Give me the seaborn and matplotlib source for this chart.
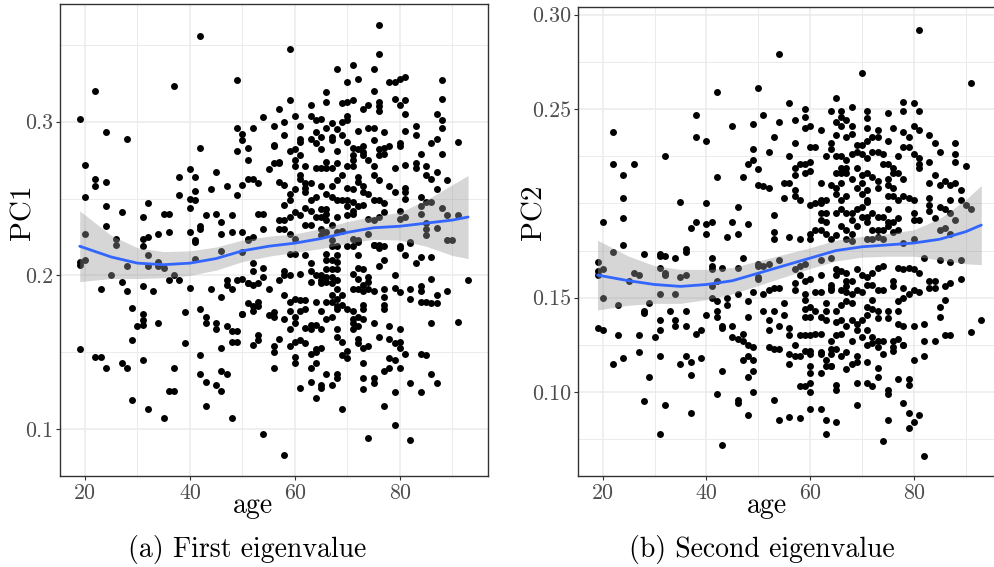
import numpy as np
import pandas as pd
import matplotlib
matplotlib.use("Agg")
import matplotlib.pyplot as plt
import seaborn as sns

# ---------------- Panel (a): PC1 vs age ----------------
a1_age = [42, 49, 22, 37, 19, 24, 28, 49, 50, 50,
          42, 49, 51, 51, 20, 22, 22, 24, 20, 40,
          38, 41, 45, 41, 38, 40, 41, 40, 44, 47,
          50, 51, 49, 24, 27, 32, 31, 35, 36, 43,
          45, 46, 48, 24, 20, 26, 26, 31, 32, 34,
          36, 40, 42, 42, 41, 46, 48, 50, 51, 31]
a1_pc1 = [.356, .327, .320, .323, .302, .293, .289, .296, .292, .288,
          .283, .281, .283, .275, .272, .263, .258, .261, .251, .269,
          .264, .264, .267, .255, .252, .250, .249, .244, .256, .258,
          .259, .263, .252, .245, .241, .247, .238, .240, .240, .239,
          .240, .235, .239, .232, .227, .224, .220, .224, .225, .227,
          .228, .228, .232, .230, .223, .227, .228, .228, .224, .219]

a2_age = [76, 59, 76, 68, 71, 75, 70, 72, 78, 79,
          80, 81, 88, 66, 75, 59, 66, 69, 70, 71,
          63, 74, 76, 76, 76, 79, 80, 81, 88, 57,
          73, 81, 54, 60, 63, 70, 87, 58, 64, 65,
          67, 69, 70, 88, 52, 56, 61, 66, 68, 74,
          75, 83, 88, 58, 63, 64, 65, 67, 69, 72,
          77, 81, 87, 91, 86, 83, 56, 56, 61, 61,
          64, 67, 70, 73, 75, 77, 78, 80, 80, 59,
          60, 65, 68, 71, 71, 72, 73, 73, 76, 76,
          77, 84, 88, 57, 60, 61, 66, 68, 71, 74,
          56, 57, 60, 62, 64, 65, 66, 67, 70, 71,
          75, 81, 83, 83, 85, 55, 61, 61, 69, 72,
          72, 79, 75, 76, 85, 86, 87, 89, 52, 53,
          57, 58, 62, 62, 62, 63, 65, 67, 68, 70,
          71, 73, 73, 74, 78, 79, 81, 81, 81, 87,
          60, 59, 59, 63, 64, 66, 67, 68, 69, 70,
          71, 75, 76, 77, 84, 85, 86, 58, 62, 63,
          65, 66, 70, 71, 72, 73, 77, 80, 84, 88,
          53, 54, 57, 58, 59, 60, 61, 64, 65, 66,
          66, 68, 70, 71, 74, 75, 76, 80, 81, 84,
          89, 91, 51, 52, 54, 57, 58, 59, 60, 62,
          63, 65, 65, 66, 67, 67, 68, 69, 71, 72,
          74, 75, 76, 80, 82, 85, 85, 85, 87, 89,
          90]
a2_pc1 = [.363, .347, .344, .334, .337, .334, .326, .328, .326, .326,
          .328, .329, .327, .319, .320, .314, .313, .312, .313, .314,
          .311, .311, .313, .310, .307, .315, .311, .314, .315, .308,
          .308, .305, .303, .304, .304, .304, .305, .300, .301, .302,
          .299, .300, .301, .301, .296, .297, .297, .296, .295, .296,
          .296, .297, .296, .291, .289, .293, .290, .290, .291, .294,
          .293, .294, .289, .287, .286, .291, .285, .284, .289, .287,
          .286, .288, .287, .284, .288, .283, .284, .286, .284, .281,
          .282, .282, .281, .283, .278, .282, .280, .278, .282, .278,
          .279, .279, .279, .274, .275, .278, .274, .273, .275, .275,
          .273, .273, .271, .271, .270, .270, .270, .270, .271, .271,
          .271, .272, .273, .270, .271, .269, .265, .263, .265, .264,
          .261, .270, .265, .262, .265, .263, .267, .262, .263, .260,
          .261, .259, .260, .257, .254, .260, .258, .258, .262, .257,
          .256, .258, .254, .253, .258, .254, .257, .254, .250, .256,
          .256, .253, .249, .249, .251, .253, .251, .249, .249, .249,
          .248, .249, .249, .247, .251, .248, .248, .246, .244, .242,
          .243, .243, .245, .242, .245, .246, .241, .242, .245, .244,
          .240, .240, .236, .236, .238, .241, .239, .238, .238, .240,
          .236, .238, .239, .240, .237, .236, .238, .237, .238, .240,
          .239, .239, .223, .225, .230, .230, .230, .227, .224, .233,
          .233, .230, .226, .228, .233, .223, .228, .229, .224, .223,
          .227, .220, .220, .219, .222, .234, .230, .226, .231, .223,
          .223]

a3_age = [19, 19, 20, 25, 28, 32, 32, 34, 34, 35,
          37, 36, 38, 41, 41, 46, 50, 27, 23, 28,
          31, 33, 40, 44, 46, 47, 47, 48, 49, 51,
          29, 39, 42, 31, 31, 30, 31, 34, 43, 43,
          45, 45, 47, 48, 49, 50, 29, 39, 46, 48,
          49, 19, 22, 23, 24, 27, 28, 31, 37, 42,
          42, 43, 46, 47, 45, 46, 36, 37, 29, 32,
          43, 35, 48]
a3_pc1 = [.209, .207, .210, .200, .206, .213, .206, .209, .206, .205,
          .200, .197, .197, .222, .211, .216, .215, .196, .191, .190,
          .193, .190, .192, .191, .186, .197, .194, .191, .197, .195,
          .179, .176, .178, .175, .171, .167, .168, .169, .173, .169,
          .169, .165, .167, .164, .164, .175, .158, .156, .153, .157,
          .157, .152, .147, .147, .140, .143, .140, .145, .140, .148,
          .136, .131, .138, .136, .129, .125, .125, .125, .119, .113,
          .115, .107, .107]

a4_age = [52, 52, 54, 54, 50, 51, 52, 53, 55, 57,
          58, 58, 59, 61, 62, 63, 63, 63, 59, 60,
          64, 65, 65, 65, 66, 66, 66, 66, 66, 67,
          67, 67, 67, 67, 68, 68, 68, 68, 68, 68,
          70, 71, 72, 72, 71, 72, 72, 73, 73, 74,
          74, 74, 75, 76, 76, 77, 77, 79, 80, 81,
          82, 83, 84, 86, 71, 72, 73, 75, 77, 77,
          79, 80, 82, 82, 84, 84, 86, 89, 93, 50,
          51, 52, 52, 53, 53, 55, 56, 56, 58, 58,
          59, 59, 60, 60, 60, 61, 61, 62, 62, 62,
          63, 63, 64, 64, 65, 65, 66, 66, 67, 67,
          67, 68, 68, 68, 69, 69, 70, 71, 71, 71,
          71, 72, 72, 73, 73, 73, 75, 77, 77, 78,
          80, 84, 85, 86, 86, 87, 87, 91, 52, 53,
          53, 57, 56, 56, 56, 59, 59, 60, 60, 60,
          61, 61, 62, 63, 63, 63, 64, 64, 64, 65,
          65, 65, 64, 66, 67, 68, 68, 68, 68, 69,
          69, 69, 70, 70, 72, 72, 73, 74, 73, 73,
          73, 75, 75, 74, 76, 77, 77, 78, 78, 78,
          79, 79, 79, 79, 80, 80, 80, 81, 82, 82,
          84, 85, 84, 86, 87, 54, 58]
a4_pc1 = [.208, .203, .205, .199, .198, .195, .194, .195, .191, .197,
          .203, .200, .200, .201, .213, .208, .203, .196, .214, .214,
          .200, .200, .197, .195, .214, .210, .204, .199, .196, .219,
          .210, .204, .199, .195, .219, .213, .209, .204, .197, .191,
          .219, .219, .222, .213, .201, .205, .198, .204, .194, .199,
          .196, .191, .220, .218, .206, .219, .210, .200, .218, .213,
          .221, .208, .212, .212, .191, .191, .190, .190, .191, .186,
          .192, .189, .191, .185, .193, .190, .198, .190, .197, .175,
          .182, .180, .177, .183, .180, .174, .176, .173, .187, .172,
          .183, .177, .185, .173, .169, .184, .177, .184, .178, .166,
          .165, .168, .183, .168, .177, .165, .183, .172, .187, .183,
          .173, .185, .180, .178, .187, .181, .178, .177, .172, .169,
          .165, .173, .167, .181, .178, .172, .169, .181, .178, .167,
          .165, .183, .183, .182, .169, .187, .182, .170, .155, .161,
          .158, .159, .154, .150, .140, .165, .154, .157, .147, .143,
          .158, .127, .156, .149, .140, .131, .150, .152, .143, .153,
          .129, .127, .120, .136, .129, .165, .160, .136, .133, .157,
          .148, .113, .151, .146, .159, .156, .153, .154, .143, .133,
          .126, .133, .130, .094, .160, .138, .115, .159, .146, .140,
          .156, .145, .124, .103, .157, .153, .140, .149, .130, .093,
          .149, .148, .124, .136, .130, .097, .083]

# loess smooth of panel (a)
smooth_age = [19, 25, 30, 35, 40, 45, 50, 55, 60, 65, 70, 75, 80, 85, 90, 93]
smooth_a = [.219, .212, .208, .207, .208, .211, .216, .219, .221, .224,
            .228, .231, .232, .234, .236, .238]
band_a = [.023, .014, .010, .0085, .008, .0075, .007, .0065, .006, .0065,
          .007, .0075, .009, .015, .023, .027]

# ---------------- Panel (b): PC2 vs age ----------------
b1_age = [42, 50, 38, 22, 38, 40, 45, 49, 49, 32,
          22, 26, 24, 42, 47, 48, 49, 50, 50, 24,
          35, 40, 46, 20, 24, 38, 37, 40, 41, 40,
          45, 48, 44, 46, 24, 36]
b1_pc2 = [.259, .261, .247, .238, .235, .233, .241, .242, .229, .225,
          .221, .221, .215, .214, .214, .221, .223, .218, .210, .203,
          .201, .200, .198, .190, .192, .190, .187, .189, .190, .184,
          .190, .189, .182, .184, .178, .176]

b2_age = [22, 28, 31, 31, 32, 34, 36, 19, 19, 19,
          20, 31, 32, 32, 26, 27, 35, 36, 41, 41,
          41, 43, 46, 47, 50, 50, 42, 41, 20, 25,
          31, 34, 41, 42, 44, 44, 46, 48, 49, 23,
          29, 28, 28, 33, 36, 40, 42, 42, 31, 34,
          34, 36, 43, 43, 45, 48, 19, 20, 23, 27,
          30, 31, 38, 39, 45, 46, 47, 47, 48, 27,
          22, 24, 31, 35, 36, 37, 39, 47, 48, 49,
          49, 48, 43, 29, 37, 49, 42, 46, 46, 28,
          32, 37, 48, 31, 43]
b2_pc2 = [.174, .173, .173, .172, .172, .171, .174, .169, .164, .162,
          .165, .166, .163, .162, .163, .162, .161, .162, .171, .167,
          .165, .166, .166, .171, .167, .160, .159, .156, .150, .159,
          .152, .152, .150, .148, .150, .146, .152, .148, .153, .146,
          .147, .143, .142, .143, .143, .141, .143, .140, .138, .138,
          .135, .135, .135, .134, .135, .140, .134, .133, .130, .130,
          .129, .133, .131, .133, .129, .128, .127, .131, .125, .121,
          .115, .118, .119, .115, .119, .116, .118, .117, .119, .117,
          .111, .108, .111, .108, .109, .100, .099, .096, .094, .095,
          .093, .089, .088, .078, .072]

b3_age = [81, 54, 70, 91, 65, 56, 51, 59, 59, 57,
          64, 66, 66, 68, 71, 71, 75, 78, 78, 80,
          81, 54, 59, 60, 62, 65, 66, 67, 68, 68,
          67, 65, 71, 73, 72, 73, 71, 70, 69, 76,
          78, 79, 80, 81, 83, 84, 53, 52, 57, 60,
          61, 64, 64, 56, 63, 65, 66, 67, 68, 69,
          70, 71, 72, 73, 74, 75, 77, 78, 79, 80,
          81, 81, 81, 83, 85, 88, 88, 88, 90, 57,
          58, 59, 60, 57, 59, 60, 62, 65, 66, 66,
          67, 67, 68, 69, 70, 71, 72, 73, 74, 75,
          75, 76, 76, 77, 78, 83, 84, 85, 86, 87,
          88, 89, 51, 52, 55, 56, 55, 57, 57, 58,
          62, 64, 65, 66, 65, 66, 67, 69, 70, 70,
          71, 71, 73, 75, 75, 76, 76, 77, 78, 79,
          80, 83, 83, 83, 85, 87, 89, 90, 91, 53,
          53, 53, 56, 58, 60, 61, 62, 63, 62, 62,
          63, 63, 62, 60, 61, 60, 65, 66, 67, 68,
          68, 69, 70, 71, 66, 67, 68, 69, 70, 71,
          71, 72, 73, 74, 75, 75, 72, 73, 74, 75,
          76, 76, 77, 77, 80, 80, 81, 84, 86, 87,
          88, 87, 63, 64, 65, 67, 68, 71, 72, 73,
          74, 78, 80, 85, 86]
b3_pc2 = [.292, .279, .269, .264, .256, .253, .247, .250, .246, .244,
          .249, .249, .246, .251, .249, .245, .248, .254, .249, .253,
          .249, .243, .240, .241, .239, .243, .241, .244, .241, .237,
          .235, .236, .240, .239, .235, .235, .233, .231, .231, .240,
          .238, .235, .241, .239, .236, .232, .235, .227, .232, .230,
          .230, .232, .229, .225, .225, .225, .225, .223, .226, .227,
          .226, .224, .227, .227, .226, .233, .225, .230, .230, .226,
          .224, .221, .219, .222, .227, .232, .226, .222, .220, .219,
          .221, .221, .222, .215, .216, .217, .211, .216, .219, .216,
          .219, .216, .213, .219, .215, .216, .214, .212, .221, .221,
          .213, .219, .216, .216, .213, .211, .215, .210, .212, .210,
          .211, .207, .209, .208, .211, .211, .203, .207, .204, .202,
          .202, .210, .208, .211, .205, .202, .204, .208, .211, .205,
          .207, .202, .208, .210, .204, .208, .204, .202, .204, .203,
          .202, .203, .199, .196, .198, .202, .202, .199, .197, .194,
          .185, .181, .182, .181, .199, .200, .200, .202, .195, .191,
          .195, .190, .186, .184, .186, .181, .195, .197, .195, .195,
          .191, .197, .198, .201, .188, .186, .184, .188, .193, .193,
          .190, .195, .193, .193, .197, .190, .186, .186, .186, .188,
          .190, .185, .186, .192, .195, .191, .191, .192, .197, .195,
          .191, .184, .184, .181, .183, .181, .180, .181, .181, .182,
          .181, .179, .181, .186, .187]

b4_age = [50, 51, 52, 54, 57, 58, 59, 62, 64, 50,
          57, 58, 59, 60, 62, 64, 64, 65, 65, 66,
          67, 67, 67, 68, 69, 70, 71, 72, 73, 74,
          76, 77, 78, 79, 80, 81, 82, 83, 84, 85,
          87, 89, 51, 52, 53, 54, 57, 59, 61, 62,
          64, 66, 67, 68, 69, 70, 71, 72, 73, 74,
          76, 78, 79, 80, 81, 83, 84, 86, 87, 89,
          55, 59, 59, 60, 61, 63, 63, 65, 66, 67,
          68, 71, 72, 72, 73, 77, 78, 86, 85, 51,
          53, 55, 59, 60, 62, 63, 65, 66, 67, 68,
          69, 70, 71, 73, 75, 75, 77, 77, 78, 80,
          82, 85, 52, 52, 54, 56, 56, 57, 58, 59,
          60, 61, 62, 64, 65, 66, 68, 69, 70, 71,
          72, 73, 74, 76, 77, 78, 82, 84, 86, 87,
          91, 93, 49, 52, 53, 54, 56, 56, 57, 58,
          59, 60, 60, 62, 62, 63, 64, 64, 64, 65,
          66, 67, 67, 68, 69, 69, 71, 72, 73, 74,
          76, 76, 78, 80, 82, 60, 60, 60, 60, 62,
          63, 64, 71, 73, 71, 72, 69, 73, 77, 79,
          79, 58, 59, 65, 65, 75, 75, 53, 69, 78,
          54, 56, 58, 60, 62, 63, 65, 63, 74, 75,
          79, 79, 80, 81, 82]
b4_pc2 = [.168, .167, .168, .170, .165, .167, .168, .170, .171, .161,
          .158, .162, .159, .160, .162, .157, .155, .165, .162, .164,
          .163, .159, .156, .159, .165, .162, .161, .163, .166, .167,
          .159, .166, .165, .166, .165, .163, .171, .159, .159, .170,
          .169, .170, .152, .154, .155, .155, .154, .152, .153, .153,
          .154, .154, .153, .152, .154, .153, .157, .157, .154, .154,
          .156, .155, .152, .154, .153, .155, .155, .156, .158, .160,
          .147, .149, .144, .145, .143, .147, .143, .143, .146, .148,
          .147, .145, .149, .144, .143, .148, .150, .149, .145, .143,
          .143, .141, .140, .140, .140, .138, .137, .138, .135, .138,
          .136, .138, .141, .139, .143, .139, .143, .136, .135, .135,
          .136, .140, .138, .133, .135, .134, .130, .125, .130, .130,
          .130, .131, .131, .127, .130, .131, .127, .133, .129, .133,
          .129, .127, .127, .127, .128, .125, .127, .127, .130, .130,
          .132, .138, .124, .124, .123, .123, .120, .115, .119, .119,
          .122, .122, .120, .121, .120, .117, .123, .120, .114, .123,
          .119, .121, .112, .115, .119, .116, .125, .126, .124, .120,
          .124, .122, .125, .117, .119, .114, .110, .105, .100, .110,
          .114, .114, .116, .113, .105, .103, .105, .108, .107, .107,
          .104, .103, .103, .104, .101, .101, .099, .096, .093, .094,
          .085, .087, .086, .091, .091, .085, .084, .078, .074, .085,
          .089, .081, .084, .088, .066]

smooth_b = [.162, .159, .157, .156, .157, .159, .163, .167, .171, .175,
            .177, .178, .179, .181, .185, .1885]
band_b = [.0185, .013, .010, .009, .008, .007, .0065, .006, .0055, .0055,
          .0055, .006, .007, .011, .017, .021]

# axis ticks / labels
x_ticks = [20, 40, 60, 80]
x_minor = [30, 50, 70, 90]
ya_ticks = [0.1, 0.2, 0.3]
ya_labels = ["0.1", "0.2", "0.3"]
ya_minor = [0.15, 0.25, 0.35]
yb_ticks = [0.10, 0.15, 0.25, 0.30]
yb_labels = ["0.10", "0.15", "0.25", "0.30"]
yb_minor = [0.075, 0.125, 0.175, 0.20, 0.225, 0.275]

# ---------------- data frames ----------------
df_a = pd.DataFrame({"age": a1_age + a2_age + a3_age + a4_age,
                     "PC1": a1_pc1 + a2_pc1 + a3_pc1 + a4_pc1})
df_b = pd.DataFrame({"age": b1_age + b2_age + b3_age + b4_age,
                     "PC2": b1_pc2 + b2_pc2 + b3_pc2 + b4_pc2})
sm_a = pd.DataFrame({"age": smooth_age, "fit": smooth_a, "se": band_a})
sm_b = pd.DataFrame({"age": smooth_age, "fit": smooth_b, "se": band_b})

# ---------------- styling ----------------
sns.set_theme(style="white")
plt.rcParams["font.family"] = ["cmr10", "DejaVu Serif"]
plt.rcParams["mathtext.fontset"] = "cm"
plt.rcParams["axes.formatter.use_mathtext"] = True
plt.rcParams["axes.unicode_minus"] = False

W, H = 995, 567
fig = plt.figure(figsize=(W / 100, H / 100), dpi=100)
fig.patch.set_facecolor("white")


def px_axes(l, t, r, b):
    return fig.add_axes([l / W, 1 - b / H, (r - l) / W, (b - t) / H])


ax_a = px_axes(60, 4, 488, 476)
ax_b = px_axes(578, 7, 1001, 476)

GRID = "#EBEBEB"


def draw(ax, df, ycol, sm, ylim, yt, ylab, ymin):
    sns.scatterplot(data=df, x="age", y=ycol, ax=ax, color="black", s=25,
                    linewidth=0, zorder=3)
    ax.fill_between(sm["age"], sm["fit"] - sm["se"], sm["fit"] + sm["se"],
                    color="#999999", alpha=0.4, linewidth=0, zorder=4)
    sns.lineplot(data=sm, x="age", y="fit", ax=ax, color="#3366FF", lw=2.0,
                 zorder=5)
    ax.set_xlim(15.24, 96.8)
    ax.set_ylim(*ylim)
    ax.set_xticks(x_ticks)
    ax.set_xticklabels([str(t) for t in x_ticks])
    ax.set_xticks(x_minor, minor=True)
    ax.set_yticks(yt)
    ax.set_yticklabels(ylab)
    ax.set_yticks(ymin, minor=True)
    ax.set_axisbelow(True)
    ax.grid(which="major", color=GRID, lw=1.1, zorder=0)
    ax.grid(which="minor", color=GRID, lw=0.7, zorder=0)
    ax.tick_params(which="major", direction="out", length=2.6, width=0.8,
                   color="#333333", labelsize=15.8, labelcolor="#4D4D4D",
                   bottom=True, left=True)
    ax.tick_params(axis="x", which="major", pad=3.0)
    ax.tick_params(axis="y", which="major", pad=2.2)
    ax.tick_params(which="minor", length=0, bottom=False, left=False)
    for sp in ax.spines.values():
        sp.set_color("#333333")
        sp.set_linewidth(1.0)
    ax.set_xlabel("")
    ax.set_ylabel("")
    ax.set_facecolor("white")
    leg = ax.get_legend()
    if leg is not None:
        leg.remove()


draw(ax_a, df_a, "PC1", sm_a, (0.0696, 0.3765), ya_ticks, ya_labels, ya_minor)
draw(ax_b, df_b, "PC2", sm_b, (0.0555, 0.3041), yb_ticks, yb_labels, yb_minor)

# axis titles and captions
fig.text(23 / W, 1 - 212 / H, "PC1", rotation=90, ha="center", va="center",
         fontsize=21, color="black")
fig.text(534 / W, 1 - 212 / H, "PC2", rotation=90, ha="center", va="center",
         fontsize=21, color="black")
fig.text(253 / W, 1 - 513 / H, "age", ha="center", va="baseline",
         fontsize=20, color="black")
fig.text(767 / W, 1 - 513 / H, "age", ha="center", va="baseline",
         fontsize=20, color="black")
fig.text(247 / W, 1 - 550 / H, "(a) First eigenvalue", ha="center",
         va="center", fontsize=20, color="black")
fig.text(762 / W, 1 - 550 / H, "(b) Second eigenvalue", ha="center",
         va="center", fontsize=20, color="black")

fig.savefig("out.png", dpi=100, facecolor="white")
